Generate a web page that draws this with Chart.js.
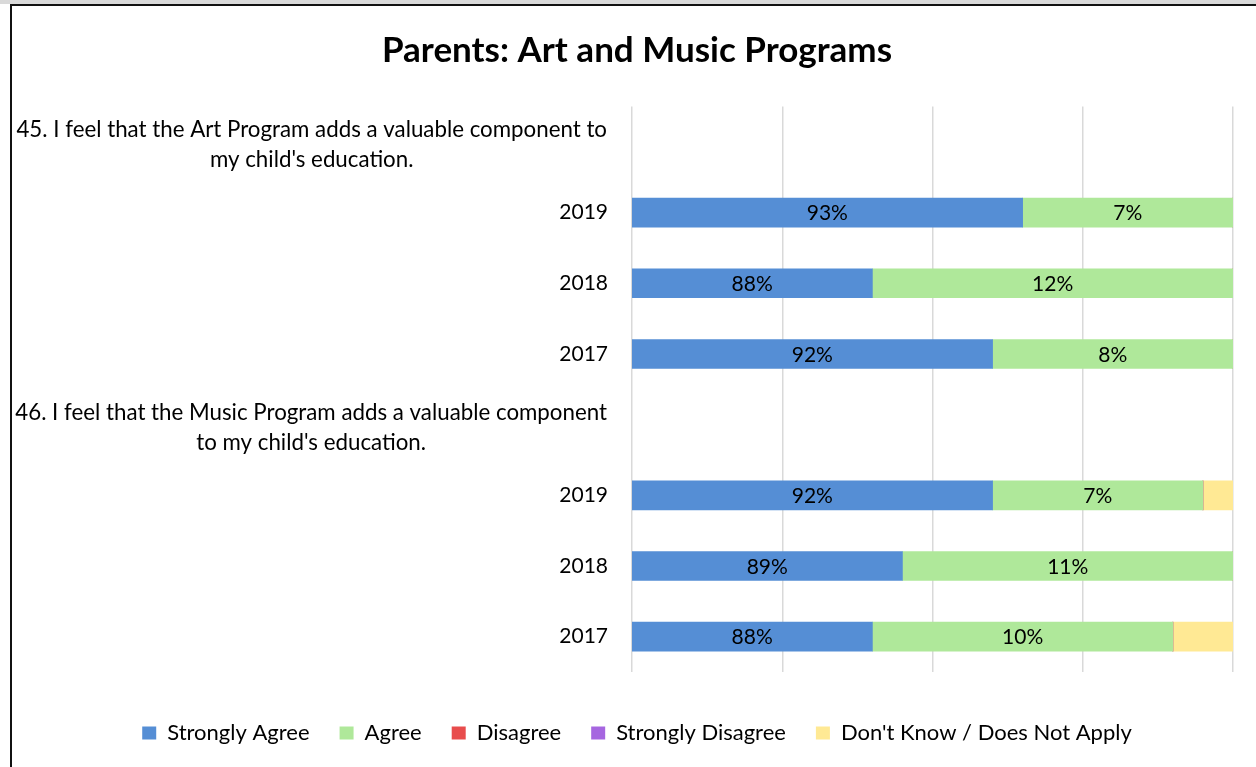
<!DOCTYPE html>
<html>
<head>
<meta charset="utf-8">
<title>Parents: Art and Music Programs</title>
<script src="https://cdn.jsdelivr.net/npm/chart.js@4.4.1/dist/chart.umd.min.js"></script>
<style>
  html, body { margin: 0; padding: 0; background: #fff; overflow: hidden; }
  .band { position: absolute; left: 0; top: 0; width: 1256px; height: 4px; background: #d9d9d9; }
  .frame { position: absolute; left: 10px; top: 4px; width: 1246px; height: 763px;
           border-left: 2px solid #111; border-top: 2px solid #111; box-sizing: border-box; }
  .wrap { position: absolute; left: 12px; top: 6px; width: 1244px; height: 761px; }
</style>
</head>
<body>
<div class="band"></div>
<div class="frame"></div>
<div class="wrap"><canvas id="chart"></canvas></div>
<script>
const FONT = 'Lato, "Open Sans", sans-serif';

const questions = [
    ['45. I feel that the Art Program adds a valuable component to', "my child's education."],
    ['46. I feel that the Music Program adds a valuable component', "to my child's education."]
];
const years = ['2019', '2018', '2017'];

// a heading row for each question, then its three survey years
const categories = [questions[0], ...years, questions[1], ...years];

const seriesNames = ['Strongly Agree', 'Agree', 'Disagree', 'Strongly Disagree', "Don't Know / Does Not Apply"];
const seriesColors = ['#558ed5', '#afe89a', '#e84c4c', '#a666e0', '#ffe994'];

const stronglyAgree    = [null, 93, 88, 92, null, 92, 89, 88];
const agree            = [null, 7, 12, 8, null, 7, 11, 10];
const disagree         = [null, 0, 0, 0, null, 0, 0, 0];
const stronglyDisagree = [null, 0, 0, 0, null, 0, 0, 0];
const dontKnow         = [null, 0, 0, 0, null, 1, 0, 2];

const xMin = 80;
const xMax = 100;
const xStep = 5;

const seriesValues = [stronglyAgree, agree, disagree, stronglyDisagree, dontKnow];

// percentage text centred on the visible part of each bar segment
const barLabels = {
    id: 'barLabels',
    afterDatasetsDraw(chart) {
        const { ctx, chartArea } = chart;
        ctx.save();
        ctx.font = '21px ' + FONT;
        ctx.fillStyle = '#000';
        ctx.textAlign = 'center';
        ctx.textBaseline = 'middle';
        [0, 1].forEach(di => {
            const meta = chart.getDatasetMeta(di);
            meta.data.forEach((bar, i) => {
                const v = chart.data.datasets[di].data[i];
                if (!v) return;
                const left = Math.max(Math.min(bar.base, bar.x), chartArea.left);
                const right = Math.min(Math.max(bar.base, bar.x), chartArea.right);
                ctx.fillText(v + '%', (left + right) / 2, bar.y + 1);
            });
        });
        ctx.restore();
    }
};

// question headings: lines centred on each other, block flush right against the axis
const questionLabels = {
    id: 'questionLabels',
    afterDraw(chart) {
        const { ctx } = chart;
        const yScale = chart.scales.y;
        ctx.save();
        ctx.font = '22.3px ' + FONT;
        ctx.fillStyle = '#000';
        ctx.textAlign = 'center';
        ctx.textBaseline = 'middle';
        categories.forEach((cat, i) => {
            if (!Array.isArray(cat)) return;
            const widest = Math.max(...cat.map(l => ctx.measureText(l).width));
            const cx = yScale.right - 25 - widest / 2;
            const cy = yScale.getPixelForTick(i) + 3;
            cat.forEach((line, k) => {
                ctx.fillText(line, cx, cy + (k - (cat.length - 1) / 2) * 30);
            });
        });
        ctx.restore();
    }
};

new Chart(document.getElementById('chart'), {
    type: 'bar',
    data: {
        labels: categories,
        datasets: seriesNames.map((name, i) => ({
            label: name,
            data: seriesValues[i],
            backgroundColor: seriesColors[i],
            borderWidth: 0,
            barThickness: 29
        }))
    },
    options: {
        indexAxis: 'y',
        responsive: true,
        maintainAspectRatio: false,
        animation: false,
        layout: { padding: { left: 29, right: 23, top: 0, bottom: 13 } },
        scales: {
            x: {
                stacked: true,
                min: xMin,
                max: xMax,
                ticks: { display: false, stepSize: xStep },
                grid: { color: '#d9d9d9', lineWidth: 1.5, drawTicks: false },
                border: { display: false },
                afterFit(scale) { scale.height = 20; }
            },
            y: {
                stacked: true,
                grid: { display: false, drawTicks: false },
                border: { display: false },
                ticks: {
                    autoSkip: false,
                    padding: 24,
                    color: '#000',
                    font: { family: FONT, size: 21 },
                    callback: (v, i) => Array.isArray(categories[i]) ? '' : categories[i]
                },
                afterFit(scale) { scale.width = 591; }
            }
        },
        plugins: {
            title: {
                display: true,
                text: 'Parents: Art and Music Programs',
                color: '#000',
                font: { family: FONT, size: 35, weight: 'bold' },
                padding: { top: 24, bottom: 34.6 }
            },
            legend: {
                position: 'bottom',
                labels: {
                    color: '#000',
                    boxWidth: 14,
                    boxHeight: 13,
                    padding: 30,
                    font: { family: FONT, size: 22 }
                }
            },
            tooltip: { enabled: false }
        }
    },
    plugins: [barLabels, questionLabels]
});
</script>
</body>
</html>
